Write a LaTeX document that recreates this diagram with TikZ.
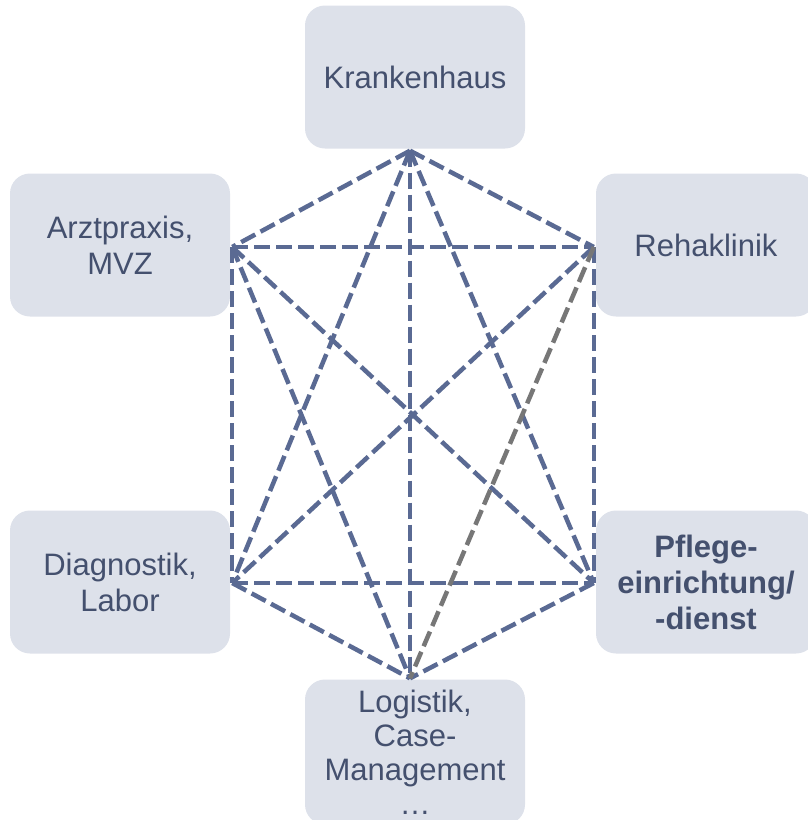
\documentclass[tikz,border=0pt]{standalone}
\usepackage{fontspec}
\setmainfont{Liberation Sans}
\definecolor{boxfill}{HTML}{DDE1EA}
\definecolor{boxtext}{HTML}{44506E}
\definecolor{linkblue}{HTML}{5A6A93}
\definecolor{linkgrey}{HTML}{777777}
\tikzset{
  box/.style={rectangle, rounded corners=20pt, fill=boxfill, text=boxtext,
    minimum width=220pt, minimum height=143pt, align=center,
    font=\fontsize{31}{36}\selectfont},
  linkline/.style={draw=linkblue, line width=4.5pt, dash pattern=on 16pt off 6pt}
}
\begin{document}
\begin{tikzpicture}[x=1pt,y=-1pt]
            \clip (0,0) rectangle (808,820);
            % Boxes
            \node[box] (kh) at (415,77) {Krankenhaus};
            \node[box] (arzt) at (120,245) {Arztpraxis,\\MVZ};
            \node[box] (reha) at (706,245) {Rehaklinik};
            \node[box] (diag) at (120,582) {Diagnostik,\\Labor};
            \node[box,font=\fontsize{31}{36}\selectfont\bfseries] (pflege) at (706,582) {Pflege-\\einrichtung/\\-dienst};
            \node[box,minimum height=145pt,font=\fontsize{31}{34}\selectfont] (log) at (415,752) {Logistik,\\Case-\\Management\\\dots};
            % Corner points of the links
            \coordinate (a) at ([xshift=-5pt,yshift=-2pt]kh.south);
            \coordinate (b) at ([xshift=2pt,yshift=-2pt]arzt.east);
            \coordinate (c) at ([xshift=-2pt,yshift=-2pt]reha.west);
            \coordinate (d) at ([xshift=2pt,yshift=-1pt]diag.east);
            \coordinate (e) at ([xshift=-2pt,yshift=-1pt]pflege.west);
            \coordinate (f) at ([xshift=-5pt,yshift=1pt]log.north);
            % Links
            \draw[linkline] (a) -- (b);
            \draw[linkline] (a) -- (c);
            \draw[linkline] (a) -- (d);
            \draw[linkline] (a) -- (e);
            \draw[linkline] (a) -- (f);
            \draw[linkline] (b) -- (c);
            \draw[linkline] (b) -- (d);
            \draw[linkline] (b) -- (e);
            \draw[linkline] (b) -- (f);
            \draw[linkline] (c) -- (d);
            \draw[linkline] (c) -- (e);
            \draw[linkline] (d) -- (e);
            \draw[linkline] (d) -- (f);
            \draw[linkline] (e) -- (f);
            \draw[linkline,draw=linkgrey] (c) -- (f); % grey link
           \end{tikzpicture}
\end{document}
